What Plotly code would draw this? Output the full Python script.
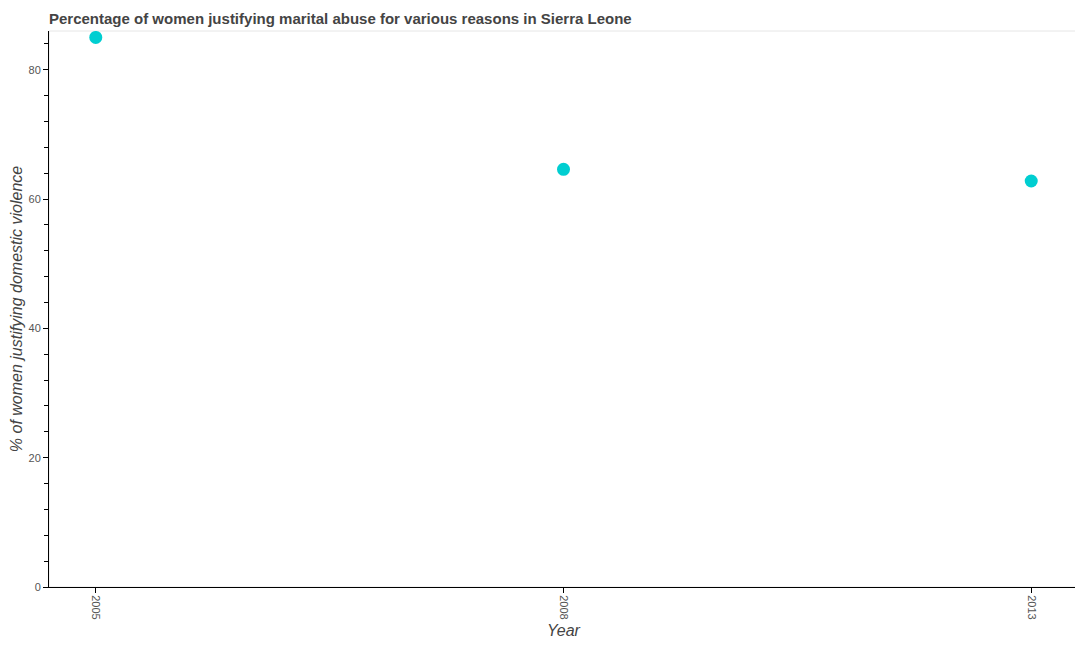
import plotly.graph_objects as go

# 데이터
years = ["2005", "2008", "2013"]
pct_values = [85.0, 64.6, 62.8]

# 페이지 body 기본 여백(8px)을 감안한 크기
FIG_W = 1075
FIG_H = 642

fig = go.Figure()

fig.add_trace(
    go.Scatter(
        x=years,
        y=pct_values,
        mode="markers",
        marker=dict(color="#00ced1", size=13),
        showlegend=False,
    )
)

# 위/오른쪽 연한 테두리
fig.add_shape(
    type="rect", xref="paper", yref="paper", x0=0, y0=0, x1=1, y1=1,
    line=dict(color="#e6e6e6", width=1), layer="below",
)

fig.update_layout(
    width=FIG_W,
    height=FIG_H,
    margin=dict(l=41, r=5, t=23, b=63),
    paper_bgcolor="white",
    plot_bgcolor="white",
    font=dict(family="Liberation Sans, Arial, sans-serif", color="#555555"),
    title=dict(
        text="<b>Percentage of women justifying marital abuse for various reasons in Sierra Leone</b>",
        x=41 / FIG_W, xanchor="left", y=1 - 11 / FIG_H, yanchor="middle",
        font=dict(size=15, color="#444444"),
    ),
)

fig.update_xaxes(
    type="category",
    range=[-0.1, 2.1],
    showgrid=False,
    showline=True, linecolor="black", linewidth=1,
    ticks="outside", tickcolor="black", ticklen=5,
    tickangle=90,
    tickfont=dict(size=11, color="#555555"),
    title=dict(text="<i>Year</i>", font=dict(size=16, color="#444444"), standoff=6),
    zeroline=False,
)

fig.update_yaxes(
    range=[0, 86],
    dtick=20,
    showgrid=False,
    showline=True, linecolor="black", linewidth=1,
    ticks="outside", tickcolor="black", ticklen=5,
    tickfont=dict(size=11, color="#555555"),
    minor=dict(dtick=4, ticks="outside", ticklen=4, tickcolor="black", showgrid=False),
    title=dict(text="<i>% of women justifying domestic violence</i>",
               font=dict(size=16, color="#444444"), standoff=5),
    zeroline=False,
)

fig.write_html("out.html")
